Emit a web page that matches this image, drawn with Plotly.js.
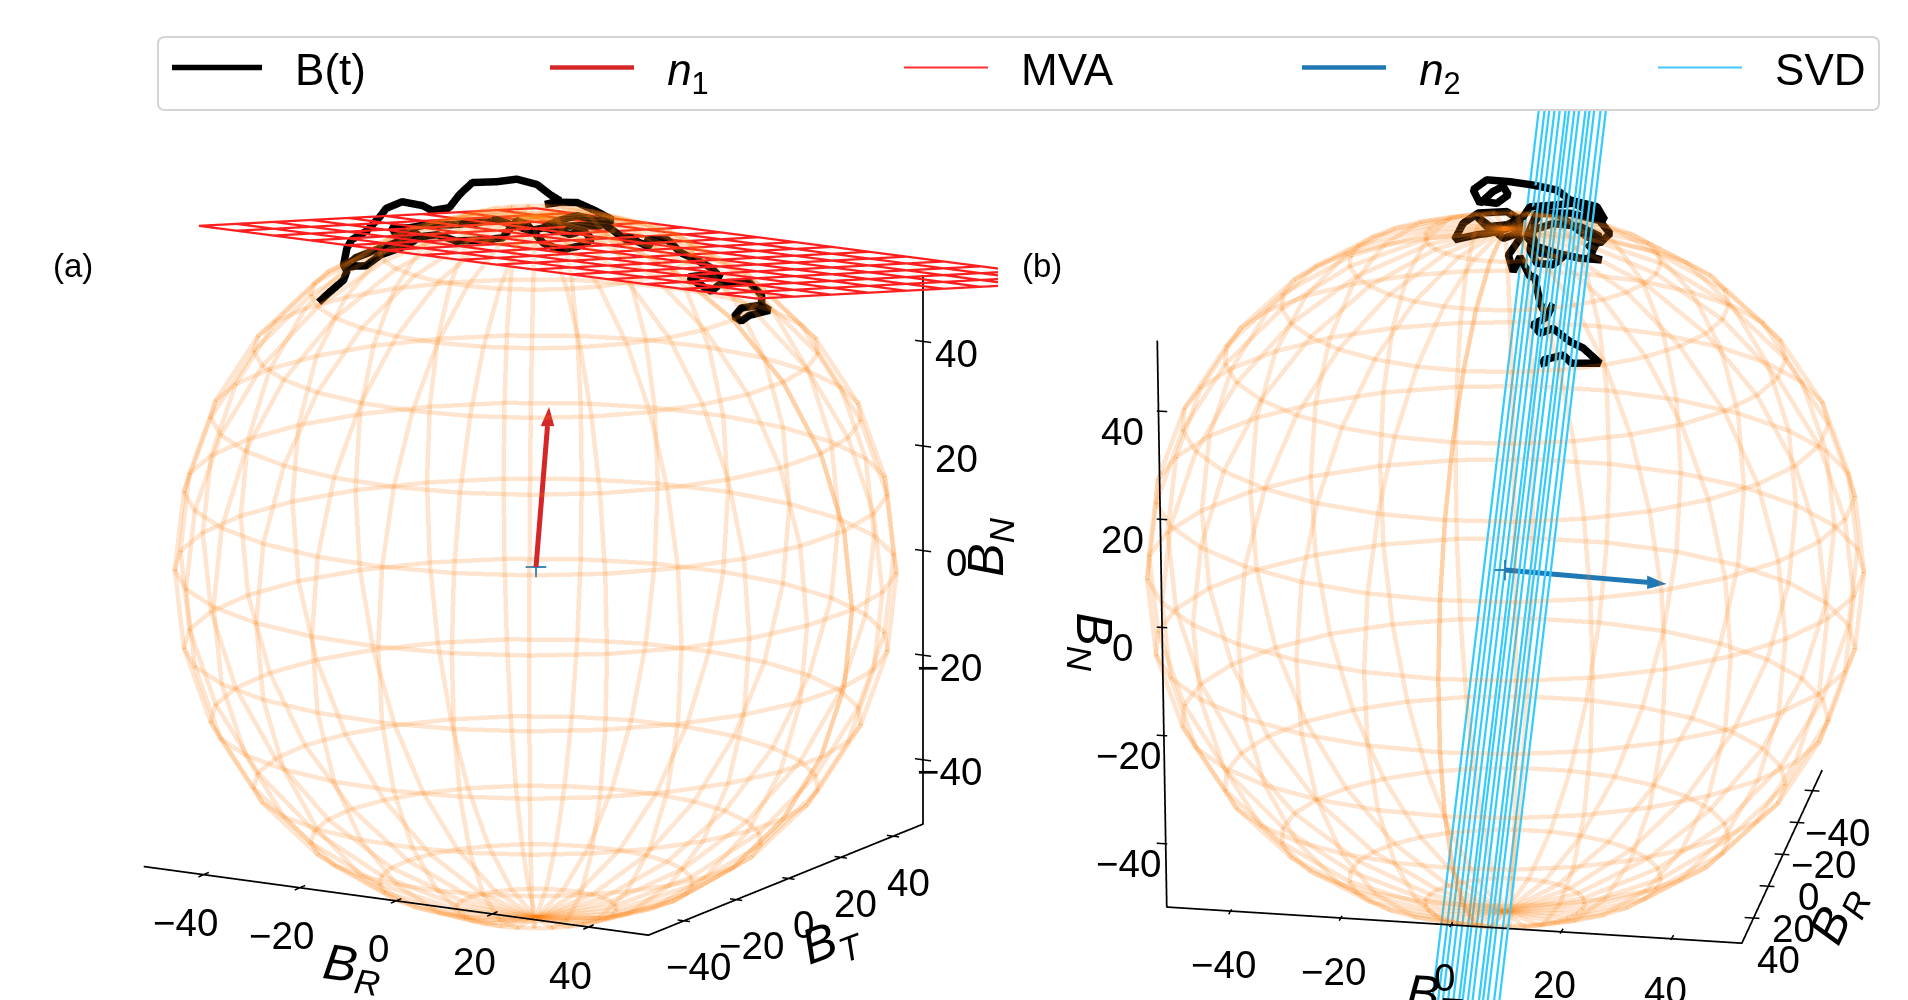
<!DOCTYPE html>
<html><head><meta charset="utf-8"><script src="https://cdn.plot.ly/plotly-3.0.1.min.js"></script>
<style>html,body{margin:0;padding:0;background:#fff;overflow:hidden;height:1000px;width:1908px}#g{position:absolute;left:0;top:0;width:1908px;height:1040px}</style></head>
<body><div id="g"></div>
<script>
const tickVals=[-40,-20,0,20,40];
const sphereRadius=67;
const sphereLon=[0,12.41,24.83,37.24,49.66,62.07,74.48,86.9,99.31,111.72,124.14,136.55,148.97,161.38,173.79,186.21,198.62,211.03,223.45,235.86,248.28,260.69,273.1,285.52,297.93,310.34,322.76,335.17,347.59,360];
const sphereCol=[0,12.86,25.71,38.57,51.43,64.29,77.14,90,102.86,115.71,128.57,141.43,154.29,167.14,180];
const n1=[0,5,29.5], n2=[-8.8,29,-3.8];
// B(t); depth along the line of sight is not readable, so BT is a nominal value
const aBR=[-73.8,-71.7,-68.5,-67.8,-68.5,-67.8,-66.8,-63.6,-60.6,-59.5,-56.1,-51.8,-49.7,-46.1,-43.9,-41.2,-36,-31.8,-27.5,-24.7,-22.6,-25.8,-22.6,-19,-15.1,-11.5,-14.1,-19.4,-24.7,-29,-36,-40.3,-46.1,-51,-54.6,-58.4,-57.1,-53.1,-52.5,-55.2,-60.6,-63.8,-65.9,-68.5,-65.9,-60.6,-54.6,-48.6,-44.6,-39,-34.8,-31.8,-29.6,-26.2,-22.6,-18.3,-15.8,-17.7,-20.5,-23.2,-26.2,-23.2,-19,-14.7,-11.5,-9.4,-7,-9.2,-7,-3.4,-4.5,-3,0.2,3,6.6,9.4,11.5,8.8,4.7,6.6,9.4,11.5,17.3,20.1,20.1,15.8,14.3,15.8,17.5,21.8,20.1];
const aBN=[30.5,32.5,35.4,37.2,38.3,41.6,43.3,45.4,48.7,50.2,51.9,51.7,51,52,54.8,57.4,58.2,59.2,58.7,57.1,56.2,55.1,55.9,56.3,55.2,53.9,52.5,51.8,51,49.7,50.9,49.8,48.7,48.1,47.1,46.8,45.1,46.3,45.5,43.6,41.2,38.7,38.4,37.7,40,42.5,45.2,46.5,45.8,46.7,47.6,51.3,50.8,47.7,46.8,48.1,49.6,51.1,50,50.4,50.6,52.3,53.8,53.4,52,50.7,51,50.2,50.6,49.6,50.8,51.1,51.5,49.4,48.3,47.3,45.6,45.9,45,44,42.8,44.6,45.7,43.4,41.5,40.4,38.6,37.9,39.2,40.7,41.5];
const aBT=aBR.map(()=>50);
// B(t); BR is the nominal depth value there
const bBT=[-1.9,-2.2,1.6,3.2,8.6,5.4,2.9,-0.3,-2.8,-4.1,-1.5,-0.3,-1.5,-2.8,-3.8,-4.7,-6.6,-7.9,-8.8,-6.6,-7.9,-11,-12.3,-14.8,-19,-17.4,-14.5,-9.1,-6.6,-6.9,-9.8,-12.3,-14.8,-12.9,-9.1,-6,-4.7,-0.3,3.5,7.3,10.5,8.6,6.1,0.4,-3.4,-5.3,-2.8,1.6,-0.3,-3.4,-4.7,-4.1,-0.3,4.8,8.6,6.1,8,6.7,8.9,4.8,0.4,-3.4,-4.7,-2.8,2.9,8,9.5,8,2.9,0.4,-4.1,-8.5,-12.9,-15.5,-14.2,-11.7,-9.8,-8.8,-11,-13.9];
const bBN=[23.8,25.1,26.3,24.8,25.1,27.9,29,31.4,30.3,31.9,33.6,36.3,33.6,36.2,41.4,41.3,45.1,42.1,45.3,48.7,50.9,49.8,49.4,48.9,47.7,51,53.2,53.8,52.3,49.7,48.5,50.7,52.5,50.6,51.2,53,55,55.6,56.2,54.5,50.7,48.7,49.8,54,53.8,49.1,46,45.6,43.9,44,46.5,50.5,52,51.7,50,47.5,48.9,45.9,45.4,45.5,46.2,47.3,50.4,53.9,54.2,53.2,53.3,55.8,56.8,58.6,59.3,59.7,59.8,57.7,55.1,57.6,58.7,57.1,55.3,55.5];
const bBR=bBT.map(()=>-50);
const mvaBR=[-45,-37.1,-29.2,-21.4,-13.5,-5.6,2.3,10.2,18,25.9,33.8,41.7,49.6,57.4,65.3,73.2];
const mvaBT=[-47.7,-33.4,-19.2,-4.9,9.4,23.7,37.9,52.2,66.5,80.8];
const mvaCoef=[61.2,0.005,-0.195];
const svdBR=[-60,-50,-42,-33,-24,-14,-8,1,9,20,27,35,46,55];
const svdCoef=[2.6,0.261,0.115];
const svdTop=[91.1,0.337], svdBot=[-84.8,0.337];

const rad=d=>d*Math.PI/180, NAN=NaN;
const view=(el,az)=>[Math.cos(rad(el))*Math.cos(rad(az)),Math.cos(rad(el))*Math.sin(rad(az)),Math.sin(rad(el))];
const VIEW={scene:view(14.2,-61),scene2:view(18,10.7)};
function lines3d(segs,scene,color,width,extra){const x=[],y=[],z=[];segs.forEach(s=>{s.forEach(p=>{x.push(p[0]);y.push(p[1]);z.push(p[2]);});x.push(NAN);y.push(NAN);z.push(NAN);});
 return Object.assign({type:'scatter3d',mode:'lines',x,y,z,scene,line:{color,width},showlegend:false,hoverinfo:'skip'},extra||{});}
function sphereSegs(){const P=(u,v)=>[sphereRadius*Math.cos(rad(u))*Math.sin(rad(v)),sphereRadius*Math.sin(rad(u))*Math.sin(rad(v)),sphereRadius*Math.cos(rad(v))];
 return sphereLon.map(u=>sphereCol.map(v=>P(u,v))).concat(sphereCol.map(v=>sphereLon.map(u=>P(u,v))));}
const sphereS=sphereSegs();
const mz=(r,t)=>mvaCoef[0]+mvaCoef[1]*r+mvaCoef[2]*t;
const mvaSegs=mvaBR.map(r=>mvaBT.map(t=>[r,t,mz(r,t)])).concat(mvaBT.map(t=>mvaBR.map(r=>[r,t,mz(r,t)])));
const svdSegs=svdBR.map(r=>{const hi=svdTop[0]+svdTop[1]*r,lo=svdBot[0]+svdBot[1]*r;const T=n=>svdCoef[0]+svdCoef[1]*r+svdCoef[2]*n;return [[r,T(lo),lo],[r,T(hi),hi]];});
const arrowW=10;
function arrow(v,perp,color,scene){
 const b=v.map(c=>c*0.88);
 const P=[v,b.map((c,i)=>c+perp[i]),b.map((c,i)=>c-perp[i])];
 const tri={type:'mesh3d',scene,x:P.map(p=>p[0]),y:P.map(p=>p[1]),z:P.map(p=>p[2]),i:[0],j:[1],k:[2],color,flatshading:true,lighting:{ambient:1,diffuse:0,specular:0},hoverinfo:'skip',showscale:false};
 return [lines3d([[[0,0,0],b]],scene,color,arrowW),tri];}
const rightA=[.875,.485,0], upA=[-.119,.214,.97], rightB=[-.186,.983,0], upB=[-.304,-.057,.951];
const mul=(v,k)=>v.map(c=>c*k);
const plus=(r,u,k)=>[[mul(r,k),mul(r,-k)],[mul(u,k),mul(u,-k)]];
const frameA=[[[-53.5,-53.5,-52],[53.5,-53.5,-52],[53.5,51.5,-54],[53.5,51.5,51]]];
const frameB=[[[52,-56.2,58.2],[52,-54.4,-52.8],[52,54.8,-53.3],[-52,50.4,-52.8]]];
const tA={x:t=>[1.02*t,-53.5,-52],y:t=>[53.5,t,-53-t*0.019],z:t=>[53.5,51.5,t-1.7]};
const tB={y:t=>[52,1.049*t-0.4,-53],z:t=>[52,-55.3,1.06*t+2],x:t=>[0.97*t,52.6+0.0423*0.97*t,-52.6]};
const seg=(p,d)=>[p.map((c,i)=>c-d[i]),p.map((c,i)=>c+d[i])];
const ticksA=tickVals.map(t=>seg(tA.x(t),[0,2,0])).concat(tickVals.map(t=>seg(tA.y(t),[1.3,0,0])),tickVals.map(t=>seg(tA.z(t),[1.7,0,0])));
const ticksB=tickVals.map(t=>seg(tB.y(t),[1.5,0,0])).concat(tickVals.map(t=>seg(tB.z(t),[0,1,0])),tickVals.map(t=>seg(tB.x(t),[0,1.4,0])));
const lbl=t=>String(t).replace('-','\u2212');
const FONT='"Liberation Sans",Arial,sans-serif';
function anns(fn,vals,xs,ys,negx){return vals.map(t=>{const p=fn(t);return {x:p[0],y:p[1],z:p[2],text:lbl(t),showarrow:false,xshift:xs+(t<0?(negx||0):0),yshift:-ys,xanchor:'center',yanchor:'middle',font:{family:FONT,size:38.5,color:'#000'}};});}
function title(p,txt,xs,ys,ang){return {x:p[0],y:p[1],z:p[2],text:txt,showarrow:false,xshift:xs,yshift:-ys,textangle:ang,xanchor:'center',yanchor:'middle',font:{family:FONT,size:50,color:'#000'}};}
const B=s=>`<i>B</i><sub><i>${s}</i></sub>`;
const annA=[...anns(tA.x,tickVals,-18,48),...anns(tA.y,tickVals,15,46),...anns(tA.z,tickVals,33,12,-7),
 title(tA.x(0),B('R'),-44,68,8),title(tA.y(0),B('T'),43,64,-20),title(tA.z(0),B('N'),67,-3,-90)];
const annB=[...anns(tB.y,tickVals,-7,53),...anns(tB.z,tickVals,-40,20,6),...anns(tB.x,tickVals,26,42),
 title(tB.y(0),B('T'),-17,73,4),title(tB.z(0),B('N'),-71,14,90),title(tB.x(0),B('R'),56,61,-65)];
const W=1908, H=1040, ASPECT=2.965;
const ax={visible:false,range:[-130,130],autorange:false};
function cam(scene,d){const f=VIEW[scene];return {eye:{x:d*f[0],y:d*f[1],z:d*f[2]},center:{x:0,y:0,z:0},up:{x:0,y:0,z:1},projection:{type:'orthographic'}};}
function sc(x0,x1,y0,y1,camera,annotations){return {domain:{x:[x0/W,x1/W],y:[1-y1/H,1-y0/H]},xaxis:ax,yaxis:ax,zaxis:ax,aspectmode:'manual',aspectratio:{x:ASPECT,y:ASPECT,z:ASPECT},camera,bgcolor:'rgba(0,0,0,0)',annotations};}
const sphW=9, blackW=15;
const leg=(name,legend)=>({name,showlegend:true,legend});
const only=(scene,color,width,name,legend)=>({type:'scatter3d',mode:'lines',x:[NAN,NAN],y:[NAN,NAN],z:[NAN,NAN],scene,line:{color,width},hoverinfo:'skip',...leg(name,legend)});
const GAP='\u00a0\u00a0\u200a';
const curve=(xs,ys,zs)=>xs.map((x,i)=>[x,ys[i],zs[i]]);
const data=[
 only('scene','#000',5.5,GAP+'B(t)','legend'),
 only('scene','#d62728',4.5,GAP+'<i>n</i><sub>1</sub>','legend2'),
 only('scene','#ff3030',2,GAP+'MVA','legend3'),
 only('scene2','#1f77b4',4.5,GAP+'<i>n</i><sub>2</sub>','legend4'),
 only('scene2','#40c8ff',2,GAP+'SVD','legend5'),
 lines3d([curve(aBR,aBT,aBN)],'scene','#000',blackW),
 lines3d([curve(bBR,bBT,bBN)],'scene2','#000',blackW),
 lines3d(sphereS,'scene','#ff7f0e',sphW,{opacity:0.2}),
 lines3d(sphereS,'scene2','#ff7f0e',sphW,{opacity:0.2}),
 lines3d(mvaSegs,'scene','#ff1f1f',4.5),
 lines3d(svdSegs,'scene2','#33ccff',4.5),
 lines3d(frameA,'scene','#000',3.5),lines3d(frameB,'scene2','#000',3.5),
 lines3d(ticksA,'scene','#000',3),lines3d(ticksB,'scene2','#000',3),
 ...arrow(n1,mul(rightA,1.25),'#d62728','scene'),
 ...arrow(n2,mul(upB,1.25),'#1f77b4','scene2'),
 lines3d(plus(rightA,upA,1.9),'scene','#1f77b4',3.5),
 lines3d(plus(rightB,upB,1.9),'scene2','#1f77b4',3.5)
];
const fx=p=>p/W, fy=p=>1-p/H;
function legendAt(px,iw){return {x:(px-5)/W,xanchor:'left',y:fy(68),yanchor:'middle',orientation:'h',bgcolor:'rgba(0,0,0,0)',borderwidth:0,itemwidth:iw,font:{family:FONT,size:44,color:'#000'}};}
function rr(x0,y0,x1,y1,r){const X=fx,Y=fy;return `M ${X(x0+r)} ${Y(y0)} L ${X(x1-r)} ${Y(y0)} Q ${X(x1)} ${Y(y0)} ${X(x1)} ${Y(y0+r)} L ${X(x1)} ${Y(y1-r)} Q ${X(x1)} ${Y(y1)} ${X(x1-r)} ${Y(y1)} L ${X(x0+r)} ${Y(y1)} Q ${X(x0)} ${Y(y1)} ${X(x0)} ${Y(y1-r)} L ${X(x0)} ${Y(y0+r)} Q ${X(x0)} ${Y(y0)} ${X(x0+r)} ${Y(y0)} Z`;}
const layout={width:W,height:H,margin:{l:0,r:0,t:0,b:0,pad:0},paper_bgcolor:'#fff',showlegend:true,
 legend:legendAt(172,90),legend2:legendAt(550,84),legend3:legendAt(904,84),legend4:legendAt(1302,84),legend5:legendAt(1658,84),
 shapes:[{type:'path',xref:'paper',yref:'paper',path:rr(158,37,1879,110,7),line:{color:'#d4d4d4',width:2},fillcolor:'#fff',layer:'above'}],
 annotations:[{xref:'paper',yref:'paper',x:fx(73),y:fy(265),xanchor:'center',yanchor:'middle',text:'(a)',showarrow:false,font:{family:FONT,size:33,color:'#000'}},
  {xref:'paper',yref:'paper',x:fx(1042),y:fy(265),xanchor:'center',yanchor:'middle',text:'(b)',showarrow:false,font:{family:FONT,size:33,color:'#000'}}],
 scene:sc(74,998,94,1040,cam('scene',2),annA),
 scene2:sc(1102,1908,100,1040,cam('scene2',2),annB)};
Plotly.newPlot('g',data,layout,{displayModeBar:false});
</script></body></html>
